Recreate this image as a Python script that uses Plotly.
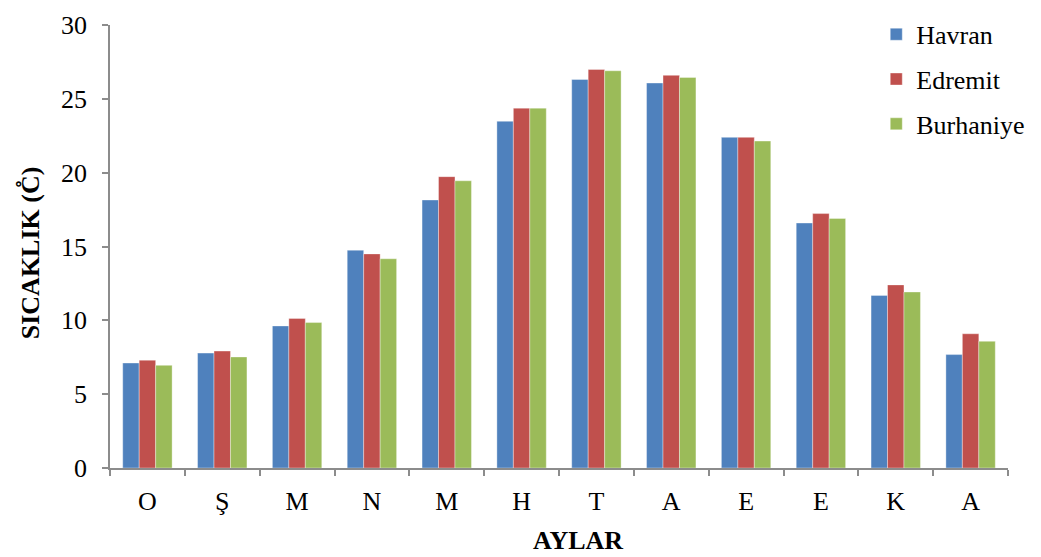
import plotly.graph_objects as go

months = ["O", "Ş", "M", "N", "M ", "H", "T", "A", "E", "E ", "K", "A "]
havran = [7.11, 7.78, 9.62, 14.75, 18.15, 23.48, 26.31, 26.07, 22.39, 16.59, 11.69, 7.68]
edremit = [7.30, 7.92, 10.13, 14.50, 19.73, 24.37, 26.99, 26.59, 22.39, 17.23, 12.40, 9.09]
burhaniye = [6.95, 7.52, 9.85, 14.17, 19.45, 24.37, 26.90, 26.45, 22.14, 16.90, 11.92, 8.58]
tick_labels = ["O", "Ş", "M", "N", "M", "H", "T", "A", "E", "E", "K", "A"]

series = [("Havran", havran, "#4F81BD"), ("Edremit", edremit, "#C0504D"), ("Burhaniye", burhaniye, "#9BBB59")]

fig = go.Figure()
for name, vals, col in series:
    fig.add_trace(go.Bar(
        x=months, y=vals, name=name, legendgroup=name,
        marker=dict(color=col, line=dict(color="rgba(255,255,255,0.6)", width=0.6)),
    ))

ff = "Liberation Serif"
fs = 26
fig.update_layout(
    width=1041, height=557,
    margin=dict(l=110, r=11, t=16, b=89),
    paper_bgcolor="white", plot_bgcolor="white",
    barmode="group", bargap=0.34, bargroupgap=0,
    font=dict(family=ff, size=fs, color="black"),
    showlegend=True,
    legend=dict(x=0.8533, y=1.032, xanchor="left", yanchor="top",
                font=dict(family=ff, size=fs, color="black"),
                tracegroupgap=8, itemwidth=30, bgcolor="rgba(0,0,0,0)"),
    xaxis=dict(
        tickmode="array", tickvals=months, ticktext=tick_labels,
        showline=True, linecolor="#8C8C8C", linewidth=1.5,
        ticks="outside", tickson="boundaries", ticklen=6, tickcolor="#8C8C8C", tickwidth=1.5,
        ticklabelstandoff=9, automargin=False,
        showgrid=False, zeroline=False,
        tickfont=dict(family=ff, size=fs),
    ),
    yaxis=dict(
        range=[0, 30], dtick=5, tick0=0,
        showline=True, linecolor="#8C8C8C", linewidth=1.5,
        ticks="outside", ticklen=6, tickcolor="#8C8C8C", tickwidth=1.5,
        ticklabelstandoff=10, automargin=False,
        showgrid=False, zeroline=False,
        tickfont=dict(family=ff, size=fs),
    ),
    annotations=[
        dict(text="<b>AYLAR</b>", xref="paper", yref="paper", x=0.5217, y=-0.1637,
             xanchor="center", yanchor="middle", showarrow=False,
             font=dict(family=ff, size=fs, color="black")),
        dict(text="<b>SICAKLIK (C\u030a)</b>", xref="paper", yref="paper", x=-0.0891, y=0.487,
             xanchor="center", yanchor="middle", textangle=-90, showarrow=False,
             font=dict(family=ff, size=fs, color="black")),
    ],
)

fig.write_html("out.html", config={"displayModeBar": False},
               post_script="document.body.style.margin='0';document.body.style.overflow='hidden';")
